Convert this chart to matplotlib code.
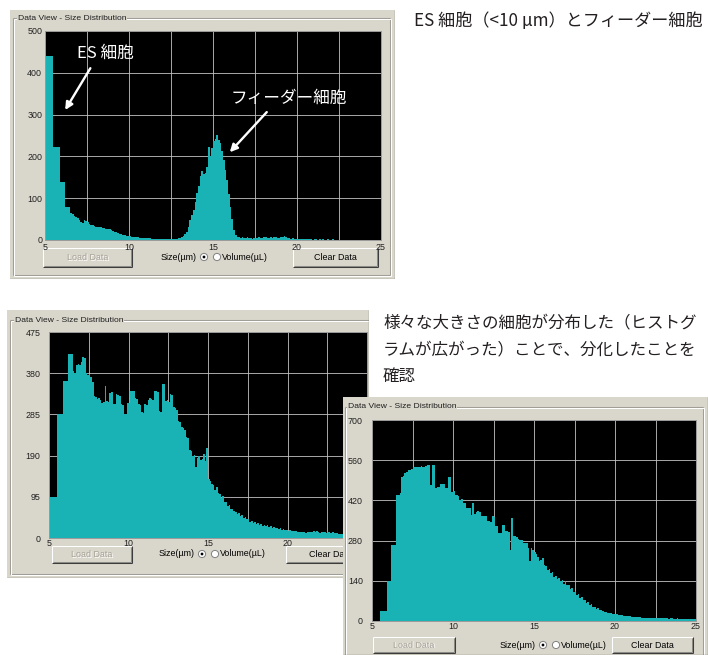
import numpy as np
import matplotlib
matplotlib.use("Agg")
import matplotlib.pyplot as plt
from matplotlib.patches import Rectangle, Circle

W, H, DPI = 708, 655, 100

# ---------------- data ----------------
size_ticks = [5, 10, 15, 20, 25]
size_minor = [7.5, 12.5, 17.5, 22.5]

# wide low-size bins, then 0.1 um bins from 6.5 um
coarse_edges = [5.0, 5.5, 5.9, 6.2, 6.5]
fine_start = 6.5
fine_step = 0.1

# ES cells + feeder cells
es_yticks = [0, 100, 200, 300, 400, 500]
es_coarse = [441, 222, 139, 78]
es_fine = [
    64, 62, 58, 55, 52, 48, 43, 41, 47, 46,
    44, 38, 36, 35, 34, 32, 31, 30, 31, 29,
    28, 27, 27, 26, 24, 22, 20, 19, 17, 15,
    14, 12, 11, 10, 10, 9, 8, 8, 7, 6,
    6, 5, 5, 5, 4, 4, 4, 5, 3, 3,
    3, 3, 2, 3, 2, 2, 3, 2, 2, 2,
    2, 2, 3, 3, 4, 5, 7, 10, 14, 20,
    32, 48, 60, 72, 90, 112, 130, 152, 164, 158,
    160, 175, 222, 200, 220, 236, 242, 252, 240, 232,
    212, 192, 168, 144, 110, 80, 50, 24, 12, 8,
    6, 5, 6, 4, 5, 6, 4, 5, 3, 4,
    5, 4, 6, 5, 4, 6, 8, 5, 4, 6,
    5, 7, 6, 5, 4, 6, 8, 9, 6, 5,
    4, 3, 4, 3, 2, 3, 2, 3, 2, 2,
    2, 3, 2, 2, 1, 2, 2, 1, 2, 1,
    2, 1, 1, 2, 1, 1, 2, 1, 1, 1,
    1, 1, 0, 1, 1, 0, 1, 1, 0, 1,
    1, 0, 1, 0, 0, 1, 0, 1, 0, 0,
    0, 1, 0, 0, 1,
]

# differentiated culture, first sample
d1_yticks = [0, 95, 190, 285, 380, 475]
d1_coarse = [95, 285, 362, 424]
d1_fine = [
    385, 380, 398, 402, 400, 405, 418, 416, 380, 376,
    378, 372, 360, 328, 326, 320, 322, 318, 312, 314,
    350, 316, 314, 335, 336, 308, 310, 331, 330, 328,
    308, 306, 285, 287, 312, 312, 339, 340, 338, 322,
    320, 308, 306, 290, 288, 308, 306, 318, 322, 320,
    318, 338, 340, 336, 292, 290, 354, 356, 315, 318,
    314, 331, 330, 301, 300, 296, 270, 268, 255, 254,
    250, 232, 230, 202, 200, 190, 192, 164, 185, 188,
    180, 182, 194, 178, 208, 135, 132, 125, 122, 110,
    118, 104, 102, 92, 96, 84, 82, 74, 75, 66,
    68, 62, 61, 55, 57, 50, 53, 47, 48, 43,
    44, 38, 39, 34, 36, 32, 34, 30, 32, 28,
    30, 27, 29, 25, 27, 24, 25, 22, 23, 21,
    22, 19, 21, 18, 19, 17, 18, 16, 17, 15,
    15, 14, 14, 13, 13, 13, 12, 13, 14, 13,
    14, 15, 14, 15, 13, 12, 13, 14, 13, 12,
    14, 13, 12, 14, 12, 11, 11, 10, 10, 9,
    10, 9, 9, 8, 8, 8, 8, 7, 7, 7,
    6, 6, 6, 5, 5,
]

# differentiated culture, second sample
d2_yticks = [0, 140, 280, 420, 560, 700]
d2_coarse = [0, 36, 139, 263]
d2_fine = [
    439, 440, 445, 502, 505, 514, 520, 525, 526, 528,
    535, 537, 536, 538, 535, 540, 537, 536, 540, 543,
    543, 473, 543, 545, 462, 468, 466, 477, 478, 476,
    462, 464, 502, 500, 450, 452, 440, 438, 436, 422,
    424, 410, 412, 395, 393, 392, 370, 410, 372, 381,
    382, 380, 364, 365, 367, 366, 348, 347, 346, 364,
    362, 330, 332, 307, 308, 335, 334, 312, 313, 310,
    249, 358, 296, 295, 294, 284, 282, 283, 272, 271,
    270, 255, 208, 254, 249, 240, 232, 222, 208, 212,
    220, 194, 190, 178, 182, 166, 170, 154, 158, 146,
    150, 138, 144, 130, 140, 124, 126, 112, 114, 102,
    104, 92, 94, 80, 82, 72, 74, 64, 66, 57,
    58, 50, 50, 43, 44, 38, 38, 34, 33, 30,
    29, 28, 27, 26, 25, 24, 23, 22, 21, 20,
    19, 18, 18, 17, 16, 15, 15, 14, 14, 13,
    13, 12, 12, 11, 10, 11, 10, 10, 11, 10,
    10, 9, 10, 9, 9, 10, 9, 9, 8, 9,
    9, 8, 8, 9, 8, 8, 7, 8, 8, 7,
    7, 8, 7, 7, 6,
]

title_top = "ES 細胞（<10 µm）とフィーダー細胞"
note_lines = ["様々な大きさの細胞が分布した（ヒストグ",
              "ラムが広がった）ことで、分化したことを",
              "確認"]

# ---------------- style ----------------
PANEL = "#d9d6cb"
CYAN = "#19b3b5"
GRID = "#c4c4c4"
UI_FONT = ["Liberation Sans", "DejaVu Sans"]
JP_FONT = ["Noto Sans CJK JP", "DejaVu Sans"]
UI_SIZE = 6.4
plt.rcParams["font.family"] = UI_FONT

fig = plt.figure(figsize=(W / DPI, H / DPI), dpi=DPI, facecolor="white")


def px_rect(x0, y0, x1, y1):
    return [x0 / W, 1 - y1 / H, (x1 - x0) / W, (y1 - y0) / H]


def hist_edges(coarse_counts, fine_counts):
    fine = fine_start + fine_step * np.arange(1, len(fine_counts) + 1)
    edges = np.concatenate([coarse_edges, fine])
    counts = np.concatenate([coarse_counts, fine_counts])
    return edges, counts


def hline(ax, x0, x1, y, color, lw=0.75):
    ax.plot([x0, x1], [y, y], color=color, lw=lw, solid_capstyle="butt")


def vline(ax, x, y0, y1, color, lw=0.75):
    ax.plot([x, x], [y0, y1], color=color, lw=lw, solid_capstyle="butt")


def button(ax, box, label, enabled):
    x0, y0, x1, y1 = box
    ax.add_patch(Rectangle((x0, y0), x1 - x0, y1 - y0, facecolor=PANEL,
                           edgecolor="none"))
    hline(ax, x0, x1, y0, "white")
    vline(ax, x0, y0, y1, "white")
    hline(ax, x0, x1, y1, "#3c3c3c")
    vline(ax, x1, y0, y1, "#3c3c3c")
    hline(ax, x0 + 1, x1 - 1, y1 - 1, "#8c8a84")
    vline(ax, x1 - 1, y0 + 1, y1 - 1, "#8c8a84")
    cx, cy = (x0 + x1) / 2, (y0 + y1) / 2
    if enabled:
        ax.text(cx, cy, label, ha="center", va="center", fontsize=UI_SIZE,
                color="black", clip_on=True)
    else:
        ax.text(cx + 0.8, cy + 0.8, label, ha="center", va="center",
                fontsize=UI_SIZE, color="white", clip_on=True)
        ax.text(cx, cy, label, ha="center", va="center", fontsize=UI_SIZE,
                color="#a6a298", clip_on=True)


def radio(ax, x, y, selected):
    ax.add_patch(Circle((x, y), 3.6, facecolor="white", edgecolor="#808080",
                        lw=0.7))
    if selected:
        ax.add_patch(Circle((x, y), 1.4, facecolor="black", edgecolor="none"))


def panel(L, coarse_counts, fine_counts, yticks, z):
    fx0, fy0, fx1, fy1 = L["frame"]
    fa = fig.add_axes(px_rect(*L["frame"]), zorder=z)
    fa.set_xlim(fx0, fx1)
    fa.set_ylim(fy1, fy0)
    fa.set_facecolor(PANEL)
    fa.set_xticks([])
    fa.set_yticks([])
    for s in fa.spines.values():
        s.set_visible(False)

    # etched group box
    gx0, gy0, gx1, gy1 = L["group"]
    for off, col in ((0, "#a09d95"), (1, "white")):
        hline(fa, gx0 + off, gx1 + off, gy0 + off, col)
        hline(fa, gx0 + off, gx1 + off, gy1 + off, col)
        vline(fa, gx0 + off, gy0 + off, gy1 + off, col)
        vline(fa, gx1 + off, gy0 + off, gy1 + off, col)
    tx, ty = L["title"]
    fa.text(tx, ty, "Data View - Size Distribution", ha="left", va="center",
            fontsize=UI_SIZE - 0.3, color="#202020", clip_on=True,
            bbox=dict(boxstyle="square,pad=0.1", facecolor=PANEL,
                      edgecolor="none"))

    # window edge shading
    hline(fa, fx0, fx1, fy1 - 0.5, "#8a877f", lw=1.0)
    vline(fa, fx1 - 0.5, fy0, fy1, "#8a877f", lw=1.0)

    button(fa, L["load"], "Load Data", False)
    button(fa, L["clear"], "Clear Data", True)
    sx, sy = L["radio"]
    fa.text(sx, sy, "Size(µm)", ha="right", va="center", fontsize=UI_SIZE,
            color="black", clip_on=True)
    radio(fa, sx + 7, sy, True)
    radio(fa, sx + 20, sy, False)
    fa.text(sx + 25, sy, "Volume(µL)", ha="left", va="center",
            fontsize=UI_SIZE, color="black", clip_on=True)

    # histogram plot
    ax = fig.add_axes(px_rect(*L["plot"]), zorder=z + 0.5)
    edges, counts = hist_edges(coarse_counts, fine_counts)
    ax.set_facecolor("black")
    ax.stairs(counts, edges, fill=True, color=CYAN, lw=0)
    ax.set_xlim(5, L["xmax"])
    ax.set_ylim(0, yticks[-1])
    ax.set_xticks(size_ticks)
    ax.set_xticks(size_minor, minor=True)
    ax.set_yticks(yticks)
    ax.grid(True, which="both", color=GRID, lw=0.6)
    ax.set_axisbelow(True)
    ax.tick_params(which="both", length=0, labelsize=UI_SIZE,
                   colors="#202020")
    ax.tick_params(axis="x", pad=L["xpad"])
    ax.tick_params(axis="y", pad=L["ypad"])
    for s in ax.spines.values():
        s.set_color("#9a9a9a")
        s.set_linewidth(0.7)
    return fa, ax


P1 = dict(frame=(10, 10, 395, 279), group=(13, 18, 390, 275), title=(18, 18),
          plot=(45, 31, 381, 240), xmax=25, xpad=2.5, ypad=2.0,
          load=(43, 248, 132, 267), clear=(293, 248, 378, 267),
          radio=(197, 257))
P2 = dict(frame=(7, 310, 369, 578), group=(10, 320, 374, 574), title=(15, 320),
          plot=(49, 332, 367, 538), xmax=5 + (367 - 49) / 16.25, xpad=0.8,
          ypad=6.0, load=(52, 546, 132, 563), clear=(286, 546, 374, 563),
          radio=(195, 554))
P3 = dict(frame=(343, 397, 708, 655), group=(345, 407, 703, 660),
          title=(348, 407), plot=(372, 420, 696, 621), xmax=25, xpad=0.6,
          ypad=6.5, load=(373, 637, 455, 653), clear=(612, 637, 693, 653),
          radio=(536, 645))

f1, ax1 = panel(P1, es_coarse, es_fine, es_yticks, 1)
f2, ax2 = panel(P2, d1_coarse, d1_fine, d1_yticks, 3)
f3, ax3 = panel(P3, d2_coarse, d2_fine, d2_yticks, 5)

# labels and arrows on the ES/feeder histogram
arrow = dict(arrowstyle="-|>", color="white", lw=1.7, mutation_scale=11,
             shrinkA=0, shrinkB=0)
ax1.text(8.6, 447, "ES 細胞", family=JP_FONT, fontsize=12, color="white",
         ha="center", va="center")
ax1.annotate("", xy=(6.2, 311), xytext=(7.7, 411), arrowprops=arrow)
ax1.text(19.5, 340, "フィーダー細胞", family=JP_FONT, fontsize=12,
         color="white", ha="center", va="center")
ax1.annotate("", xy=(16.0, 210), xytext=(18.2, 306), arrowprops=arrow)

# explanatory text
fig.text(414 / W, 1 - 21 / H, title_top, family=JP_FONT, fontsize=12.3,
         color="#231f20", ha="left", va="center")
for i, line in enumerate(note_lines):
    fig.text(383 / W, 1 - (323 + 26.5 * i) / H, line, family=JP_FONT,
             fontsize=11.9, color="#231f20", ha="left", va="center")

fig.savefig("out.png", dpi=DPI, facecolor="white")
